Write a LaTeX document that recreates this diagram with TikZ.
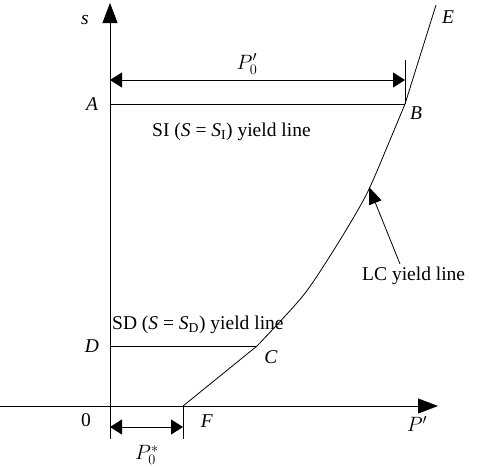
\documentclass[tikz,border=0pt]{standalone}
\usepackage{fontspec}
\setmainfont{Liberation Serif}
\usetikzlibrary{arrows.meta}
\begin{document}
\begin{tikzpicture}[x=1pt,y=-1pt,
  ln/.style={line width=0.8pt},
  tip/.style={-{Triangle[length=20pt,width=15pt]}},
  dtip/.style={{Triangle[length=12pt,width=15pt]}-{Triangle[length=12pt,width=15pt]}},
  lbl/.style={font=\fontsize{19.5}{22}\selectfont, inner sep=1pt}]
\useasboundingbox (0,0) rectangle (478,466);
% points
\coordinate (O) at (110,406);
\coordinate (Stop) at (110,3);
\coordinate (Sbot) at (110,439);
\coordinate (Xl) at (0,406);
\coordinate (Xr) at (438,406);
\coordinate (A) at (110,104);
\coordinate (B) at (405,104);
\coordinate (Btop) at (405,60);
\coordinate (A2) at (110,80);
\coordinate (B2) at (405,80);
\coordinate (E) at (436,5);
\coordinate (C) at (257,346);
\coordinate (D) at (110,346);
\coordinate (F) at (183,406);
\coordinate (Fb) at (183,439);
\coordinate (Fa) at (183,427);
\coordinate (Oa) at (110,427);
\coordinate (LCtip) at (369,187);
\coordinate (LCtail) at (400,264);
% axes
\draw[ln] (Sbot) -- (O);
\draw[ln,tip] (O) -- (Stop);
\draw[ln,tip] (Xl) -- (Xr);
% lines
\draw[ln] (A) -- (B);
\draw[ln] (D) -- (C);
\draw[ln] (Btop) -- (B);
\draw[ln] (F) -- (Fb);
\draw[ln,dtip] (A2) -- (B2);
\draw[ln,dtip] (Oa) -- (Fa);
% curve
\draw[ln] (E) -- (B);
\draw[ln] plot[smooth, tension=0.5] coordinates {(405,104) (390,140) (370,187) (355,215) (330,256) (302,297) (257,346)};
\draw[ln] (C) -- (F);
\draw[ln,{Triangle[length=17pt,width=13pt]}-] (LCtip) -- (LCtail);
% labels
\node[lbl] (ls) at (85,20) {\textit{s}};
\node[lbl] (lA) at (92,104) {\textit{A}};
\node[lbl] (lB) at (416,113) {\textit{B}};
\node[lbl] (lE) at (448,17) {\textit{E}};
\node[lbl] (lD) at (92,346) {\textit{D}};
\node[lbl] (lC) at (271,357) {\textit{C}};
\node[lbl] (lF) at (207,421) {\textit{F}};
\node[lbl] (l0) at (86,420) {0};
\node[lbl] (lP) at (417,424) {$P'$};
\node[lbl] (lP0) at (247,64) {$P_0'$};
\node[lbl] (lP0s) at (147,455) {$P_0^*$};
\node[lbl,anchor=west] (lSI) at (151,132) {SI (\textit{S} = \textit{S}\textsubscript{I}) yield line};
\node[lbl,anchor=west] (lSD) at (111,325) {SD (\textit{S} = \textit{S}\textsubscript{D}) yield line};
\node[lbl,anchor=west] (lLC) at (361,276) {LC yield line};
\end{tikzpicture}
\end{document}
